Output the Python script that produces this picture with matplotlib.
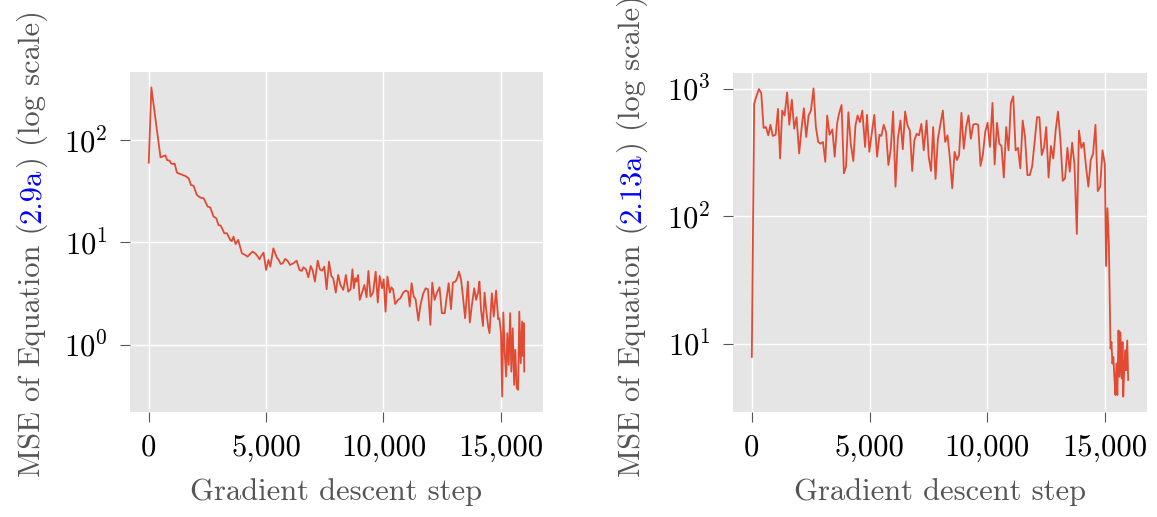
import numpy as np
import matplotlib
matplotlib.use("Agg")
import matplotlib.pyplot as plt
from matplotlib.ticker import FuncFormatter, NullLocator, LogLocator

plt.style.use('ggplot')
plt.rcParams['font.family'] = ['cmr10']
plt.rcParams['mathtext.fontset'] = 'cm'
plt.rcParams['axes.unicode_minus'] = False
plt.rcParams['axes.formatter.use_mathtext'] = True

# ---------------- data ----------------
steps_a = [0, 110, 500, 640, 710, 780, 890, 950, 1060, 1100,
           1200, 1350, 1560, 1700, 1800, 1910, 2050, 2200, 2340, 2410,
           2510, 2620, 2760, 2880, 2970, 3070, 3220, 3330, 3470, 3540,
           3610, 3700, 3810, 3970, 4110, 4210, 4320, 4420, 4530, 4630,
           4720, 4790, 4890, 5000, 5100, 5180, 5310, 5450, 5540, 5620,
           5710, 5810, 5910, 6020, 6160, 6300, 6420, 6520, 6590, 6700,
           6800, 6900, 6980, 7080, 7200, 7290, 7390, 7480, 7580, 7680,
           7780, 7860, 7970, 8070, 8170, 8290, 8400, 8500, 8600, 8680,
           8740, 8800, 8850, 8920, 8990, 9090, 9190, 9280, 9360, 9450,
           9560, 9670, 9760, 9840, 9940, 10010, 10090, 10170, 10270, 10340,
           10410, 10500, 10620, 10720, 10840, 10950, 11050, 11120, 11200, 11290,
           11370, 11490, 11570, 11690, 11800, 11900, 12000, 12080, 12180, 12280,
           12390, 12490, 12610, 12680, 12780, 12880, 12960, 13070, 13140, 13220,
           13310, 13390, 13480, 13600, 13680, 13770, 13870, 13950, 14040, 14090,
           14160, 14240, 14310, 14380, 14460, 14520, 14620, 14700, 14800, 14890,
           14940, 15010, 15060, 15110, 15170, 15230, 15280, 15340, 15400, 15450,
           15510, 15570, 15620, 15680, 15740, 15790, 15850, 15910, 15940, 15980,
           16000]
mse_a = [60.1, 326.5, 67.8, 69.8, 70.9, 63.8, 62.9, 59.2, 58.3, 59.2,
         48.0, 46.6, 44.6, 42.3, 36.4, 35.8, 29.1, 27.4, 27.0, 25.0,
         22.4, 22.0, 17.9, 17.2, 14.8, 14.6, 12.3, 12.3, 10.6, 10.3,
         11.4, 9.67, 10.6, 7.84, 7.55, 7.27, 7.72, 8.14, 7.84, 7.39,
         6.85, 7.39, 7.96, 5.39, 6.75, 5.81, 8.77, 7.17, 6.75, 6.17,
         6.26, 6.90, 6.65, 6.03, 6.26, 6.65, 5.39, 5.27, 5.72, 5.47,
         4.57, 5.90, 5.39, 4.15, 6.65, 5.47, 5.31, 5.81, 3.49, 6.50,
         4.71, 4.47, 3.24, 4.82, 3.85, 3.44, 4.82, 3.31, 3.49, 5.47,
         3.57, 4.47, 4.15, 4.82, 2.75, 3.24, 3.85, 2.92, 5.27, 2.96,
         3.24, 5.19, 2.59, 4.71, 3.57, 4.37, 2.11, 4.64, 3.24, 3.65,
         3.49, 2.51, 2.75, 2.85, 3.24, 3.39, 3.31, 2.37, 4.00, 2.96,
         2.79, 1.73, 2.40, 3.15, 3.57, 3.49, 1.57, 4.06, 2.75, 3.24,
         3.65, 2.04, 2.04, 2.75, 4.00, 2.23, 4.06, 4.15, 4.47, 5.19,
         4.31, 2.96, 1.82, 4.15, 1.65, 2.46, 3.57, 2.75, 3.31, 4.15,
         2.19, 1.53, 3.24, 2.19, 1.53, 1.30, 3.19, 1.89, 3.39, 1.78,
         1.82, 1.30, 0.313, 2.07, 0.829, 0.491, 1.30, 0.638, 2.04, 0.549,
         1.45, 0.407, 0.894, 0.378, 0.364, 2.11, 0.662, 1.69, 0.781, 1.63,
         0.549]

steps_b = [0, 100, 180, 300, 400, 500, 600, 700, 790, 890,
           1010, 1110, 1200, 1290, 1390, 1500, 1590, 1700, 1800, 1900,
           2010, 2110, 2210, 2310, 2410, 2510, 2620, 2720, 2820, 2920,
           3020, 3120, 3200, 3300, 3420, 3520, 3620, 3700, 3810, 3910,
           4000, 4100, 4200, 4310, 4400, 4490, 4590, 4690, 4810, 4890,
           4990, 5100, 5200, 5320, 5420, 5500, 5600, 5700, 5800, 5900,
           6000, 6100, 6200, 6310, 6410, 6510, 6610, 6710, 6810, 6900,
           7000, 7100, 7200, 7300, 7420, 7510, 7610, 7700, 7800, 7900,
           8000, 8110, 8210, 8310, 8410, 8510, 8610, 8710, 8800, 8900,
           9000, 9100, 9200, 9300, 9400, 9500, 9610, 9710, 9810, 9910,
           10010, 10110, 10220, 10310, 10410, 10510, 10600, 10700, 10800, 10900,
           11000, 11100, 11200, 11300, 11400, 11500, 11600, 11700, 11800, 11900,
           12000, 12110, 12210, 12310, 12410, 12500, 12600, 12700, 12800, 12900,
           13000, 13100, 13200, 13300, 13400, 13500, 13600, 13700, 13800, 13890,
           13990, 14090, 14190, 14290, 14390, 14490, 14590, 14690, 14790, 14890,
           14990, 15040, 15100, 15160, 15230, 15270, 15310, 15350, 15400, 15440,
           15480, 15520, 15570, 15610, 15650, 15700, 15740, 15770, 15810, 15850,
           15890, 15940, 15980]
mse_b = [7.87, 764, 861, 1000, 931, 495, 503, 433, 524, 428,
         438, 698, 285, 678, 620, 942, 524, 826, 488, 601,
         312, 488, 707, 420, 620, 678, 1012, 503, 384, 372,
         384, 268, 620, 438, 482, 294, 533, 638, 750, 218,
         245, 658, 372, 272, 518, 620, 550, 678, 351, 627,
         321, 460, 627, 294, 438, 428, 524, 460, 253, 340,
         666, 171, 407, 566, 337, 666, 518, 473, 227, 396,
         446, 433, 533, 330, 566, 294, 227, 503, 197, 407,
         518, 678, 384, 433, 285, 166, 321, 277, 303, 650,
         340, 503, 620, 407, 524, 533, 524, 249, 306, 460,
         543, 351, 778, 256, 543, 372, 357, 202, 503, 330,
         778, 877, 330, 345, 238, 566, 420, 211, 211, 245,
         372, 601, 601, 303, 351, 503, 202, 357, 285, 473,
         666, 407, 190, 199, 345, 224, 379, 256, 72.8, 473,
         345, 379, 245, 171, 277, 312, 524, 158, 171, 330,
         256, 40.7, 116, 60.1, 9.14, 10.3, 6.98, 7.87, 5.18, 3.95,
         6.98, 3.95, 12.7, 5.50, 12.3, 5.33, 10.3, 3.84, 6.19, 8.87,
         6.19, 10.6, 5.18]

x_ticks = [0, 5000, 10000, 15000]
x_label = "Gradient descent step"
y_label_a = [("MSE of Equation (", "#555555"), ("2.9a", "#0000ff"),
             (") (log scale)", "#555555")]
y_label_b = [("MSE of Equation (", "#555555"), ("2.13a", "#0000ff"),
             (") (log scale)", "#555555")]

# ---------------- figure ----------------
W, H = 1157, 517
fig = plt.figure(figsize=(W / 100, H / 100), dpi=100)
FS = 22
LINE_COLOR = '#E24A33'


def make_axes(rect_px):
    l, t, r, b = rect_px
    return fig.add_axes([l / W, 1 - b / H, (r - l) / W, (b - t) / H])


ax1 = make_axes((130, 72, 543, 412))
ax2 = make_axes((733, 73, 1147, 412))

for ax, xs, ys in ((ax1, steps_a, mse_a), (ax2, steps_b, mse_b)):
    ax.plot(xs, ys, color=LINE_COLOR, lw=1.3)
    ax.set_yscale('log')
    ax.yaxis.set_major_locator(LogLocator(base=10))
    ax.yaxis.set_minor_locator(NullLocator())
    ax.set_xticks(x_ticks)
    ax.xaxis.set_major_formatter(FuncFormatter(lambda v, p: f"{v:,.0f}"))
    ax.set_facecolor('#E5E5E5')
    ax.grid(True, color='white', lw=1.0)
    for s in ax.spines.values():
        s.set_visible(False)
    ax.tick_params(axis='both', which='major', direction='out', length=7.5,
                   width=0.8, color='#555555', labelcolor='black',
                   labelsize=FS, pad=8.5)
    ax.tick_params(top=False, right=False)
    ax.set_xlabel(x_label, fontsize=FS, color='#555555', labelpad=12)

renderer = fig.canvas.get_renderer()


def text_width(s):
    t = fig.text(0, 0, s, fontsize=FS)
    w = t.get_window_extent(renderer).width
    t.remove()
    return w


def colored_ylabel(x_px, y_bottom_px, pieces):
    full = ""
    for s, c in pieces:
        full += s
        start = text_width(full) - text_width(s)
        fig.text(x_px / W, (y_bottom_px + start) / H, s, color=c,
                 fontsize=FS, rotation=90, rotation_mode='anchor',
                 ha='left', va='baseline')


colored_ylabel(40, H - 477, y_label_a)
colored_ylabel(640, H - 477, y_label_b)

fig.savefig('out.png', dpi=100)
